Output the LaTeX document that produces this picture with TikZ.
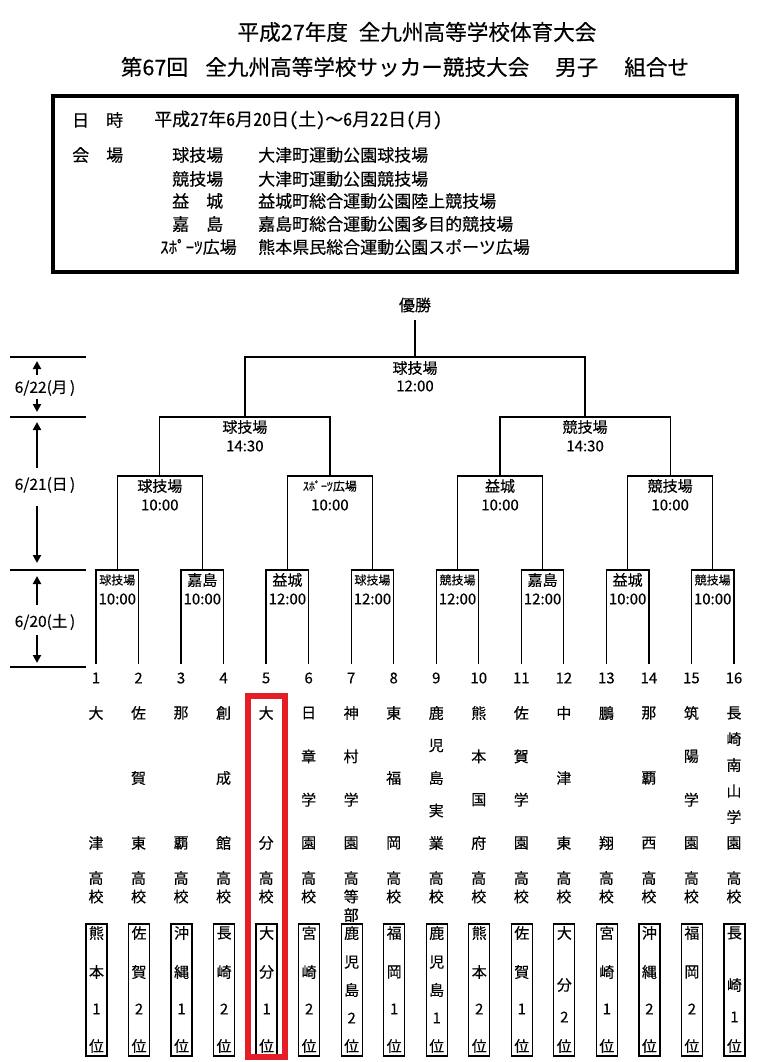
\documentclass[tikz,border=0pt]{standalone}
\usepackage{fontspec}
\setmainfont{Noto Sans CJK JP}[UprightFeatures={FakeBold=0.3}]
\newfontfamily\hwfont{Noto Sans CJK JP}[RawFeature=+hwid,FakeBold=0.3]
\usetikzlibrary{arrows.meta,calc}
\definecolor{redc}{RGB}{228,30,38}
\tikzset{
  ln/.style={line width=1.3pt},
  arr/.style={line width=2pt,-{Triangle[width=8pt,length=8pt]}},
  titlef/.style={inner sep=0,font=\fontsize{21.6}{22}\selectfont},
  info/.style={inner sep=0,font=\fontsize{17}{17}\selectfont},
  lbl/.style={inner sep=0,font=\fontsize{15}{15}\selectfont},
  slbl/.style={inner sep=0,font=\fontsize{12}{12}\selectfont},
  datef/.style={inner sep=0,font=\fontsize{15.5}{16}\selectfont},
  rbox/.style={draw,line width=1.3pt,minimum width=21pt,minimum height=132pt,inner sep=0},
}
\begin{document}
\begin{tikzpicture}[x=1pt,y=-1pt]
\useasboundingbox (0,0) rectangle (758,1062);
% title
\node[titlef] (t1) at (417,32) {平成27年度\hspace{0.5em}全九州高等学校体育大会};
\node[titlef] (t2) at (405,67) {第67回\hspace{0.8em}全九州高等学校サッカー競技大会\hspace{1.2em}男子\hspace{1.2em}組合せ};
% info box
\node[draw,line width=3.8pt,minimum width=684pt,minimum height=176pt,inner sep=0] (box) at (395,184) {};
\node[info,anchor=west] (i1) at (72,120) {日\hspace{1em}時};
\node[info,anchor=west,font=\fontsize{18}{18}\hwfont] (i2) at (154,120) {平成27年6月20日(土){\rmfamily ～}6月22日(月)};
\node[info,anchor=west] (i3) at (72,155) {会\hspace{1em}場};
\node[info,anchor=west] (v1) at (172,155) {球技場};
\node[info,anchor=west] (v2) at (172,179) {競技場};
\node[info,anchor=west] (v3) at (172,201) {益\hspace{1em}城};
\node[info,anchor=west] (v4) at (172,224) {嘉\hspace{1em}島};
\node[info,anchor=west] (v5) at (160,247) {ｽﾎﾟｰﾂ広場};
\node[info,anchor=west] (w1) at (258,155) {大津町運動公園球技場};
\node[info,anchor=west] (w2) at (258,179) {大津町運動公園競技場};
\node[info,anchor=west] (w3) at (258,201) {益城町総合運動公園陸上競技場};
\node[info,anchor=west] (w4) at (258,224) {嘉島町総合運動公園多目的競技場};
\node[info,anchor=west] (w5) at (258,247) {熊本県民総合運動公園スポーツ広場};
% date scale
\coordinate (sl1) at (10,357); \coordinate (sr1) at (86,357);
\coordinate (sl2) at (10,417); \coordinate (sr2) at (86,417);
\coordinate (sl3) at (10,570); \coordinate (sr3) at (86,570);
\coordinate (sl4) at (10,667); \coordinate (sr4) at (86,667);
\foreach \k in {1,...,4}{\draw[ln] (sl\k) -- (sr\k);}
\node[datef] (d1) at (45,388) {6/22(月\,)};
\node[datef] (d2) at (45,485) {6/21(日\,)};
\node[datef] (d3) at (45,622) {6/20(土\,)};
\coordinate (a1s) at (37,375); \coordinate (a1e) at (37,361);
\coordinate (a2s) at (37,399); \coordinate (a2e) at (37,412);
\coordinate (a3s) at (37,468); \coordinate (a3e) at (37,422);
\coordinate (a4s) at (37,506); \coordinate (a4e) at (37,563);
\coordinate (a5s) at (37,605); \coordinate (a5e) at (37,576);
\coordinate (a6s) at (37,635); \coordinate (a6e) at (37,663);
\foreach \k in {1,...,6}{\draw[arr] (a\k s) -- (a\k e);}
% bracket coordinates
\foreach \i in {1,...,16}{
  \pgfmathsetmacro\xx{96+(\i-1)*42.53}
  \coordinate (p\i) at (\xx,664);
  \node[lbl] (num\i) at (\xx,678) {\i};
}
\foreach \k in {1,...,8}{\coordinate (a\k) at ({96+(2*\k-1.5)*42.53},570);}
\foreach \k in {1,...,4}{\coordinate (c\k) at ({96+(4*\k-2.5)*42.53},476);}
\foreach \k in {1,2}{\coordinate (e\k) at ({96+(8*\k-4.5)*42.53},417);}
\coordinate (f) at ({96+7.5*42.53},357);
\node[lbl,font=\fontsize{16}{16}\selectfont] (champ) at ({96+7.5*42.53},305) {優勝};
\coordinate (fc) at ({96+7.5*42.53},320);
% bracket lines
\foreach \k in {1,...,8}{
  \pgfmathtruncatemacro\l{2*\k-1}\pgfmathtruncatemacro\r{2*\k}
  \draw[ln] (p\l) |- (a\k) -| (p\r);
}
\foreach \k in {1,...,4}{
  \pgfmathtruncatemacro\l{2*\k-1}\pgfmathtruncatemacro\r{2*\k}
  \draw[ln] (a\l) |- (c\k) -| (a\r);
}
\draw[ln] (c1) |- (e1) -| (c2);
\draw[ln] (c3) |- (e2) -| (c4);
\draw[ln] (e1) |- (f) -| (e2);
\draw[ln] (f) -- (fc);
% match labels
\node[lbl] (fv) at ($(f)+(0,11)$) {球技場};
\node[lbl] (ft) at ($(f)+(0,29)$) {12:00};
\node[lbl] (e1v) at ($(e1)+(0,10)$) {球技場};
\node[lbl] (e1t) at ($(e1)+(0,29)$) {14:30};
\node[lbl] (e2v) at ($(e2)+(0,10)$) {競技場};
\node[lbl] (e2t) at ($(e2)+(0,29)$) {14:30};
\foreach \k/\v/\s/\t in {1/球技場/lbl/10:00,2/ｽﾎﾟｰﾂ広場/slbl/10:00,3/益城/lbl/10:00,4/競技場/lbl/10:00}{
  \node[\s] (c\k v) at ($(c\k)+(0,10)$) {\v};
  \node[lbl] (c\k t) at ($(c\k)+(0,29)$) {\t};
}
\foreach \k/\v/\s/\t in {1/球技場/slbl/10:00,2/嘉島/lbl/10:00,3/益城/lbl/12:00,4/球技場/slbl/12:00,5/競技場/slbl/12:00,6/嘉島/lbl/12:00,7/益城/lbl/10:00,8/競技場/slbl/10:00}{
  \node[\s] (a\k v) at ($(a\k)+(0,10)$) {\v};
  \node[lbl] (a\k t) at ($(a\k)+(0,29)$) {\t};
}
% team names
\foreach \i/\n/\nm/\sf in {1/2/{大,津}/{高,校},2/3/{佐,賀,東}/{高,校},3/2/{那,覇}/{高,校},4/3/{創,成,館}/{高,校},5/2/{大,分}/{高,校},6/4/{日,章,学,園}/{高,校},7/4/{神,村,学,園}/{高,等,部},8/3/{東,福,岡}/{高,校},9/5/{鹿,児,島,実,業}/{高,校},10/4/{熊,本,国,府}/{高,校},11/4/{佐,賀,学,園}/{高,校},12/3/{中,津,東}/{高,校},13/2/{鵬,翔}/{高,校},14/3/{那,覇,西}/{高,校},15/4/{筑,陽,学,園}/{高,校},16/6/{長,崎,南,山,学,園}/{高,校}}{
  \pgfmathsetmacro\xx{96+(\i-1)*42.53}
  \foreach \c [count=\k] in \nm {
    \node[lbl] (nm\i-\k) at (\xx,{713+(\k-1)*130/(\n-1)}) {\c};
  }
  \foreach \c [count=\k] in \sf {
    \node[lbl] (sf\i-\k) at (\xx,{878+(\k-1)*18.5}) {\c};
  }
}
% ranking boxes
\foreach \i/\lst in {1/{熊/933,本/972,1/1009,位/1046},2/{佐/933,賀/972,2/1009,位/1046},3/{沖/933,縄/972,1/1009,位/1046},4/{長/933,崎/972,2/1009,位/1046},5/{大/933,分/972,1/1009,位/1046},6/{宮/933,崎/972,2/1009,位/1046},7/{鹿/933,児/962,島/990,2/1018,位/1046},8/{福/933,岡/972,1/1009,位/1046},9/{鹿/933,児/962,島/990,1/1018,位/1046},10/{熊/933,本/972,2/1009,位/1046},11/{佐/933,賀/972,1/1009,位/1046},12/{大/933,分/985,2/1017,位/1046},13/{宮/933,崎/972,1/1009,位/1046},14/{沖/933,縄/972,2/1009,位/1046},15/{福/933,岡/972,2/1009,位/1046},16/{長/933,崎/985,1/1017,位/1046}}{
  \pgfmathsetmacro\xx{96.5+(\i-1)*42.53}
  \node[rbox] (b\i) at (\xx,990) {};
  \foreach \c/\y [count=\k] in \lst {
    \node[lbl] (b\i-\k) at (\xx,\y) {\c};
  }
}
% highlight
\node[draw=redc,line width=5.5pt,minimum width=37pt,minimum height=361pt,inner sep=0] (hl) at (266.5,876.5) {};
\end{tikzpicture}
\end{document}
